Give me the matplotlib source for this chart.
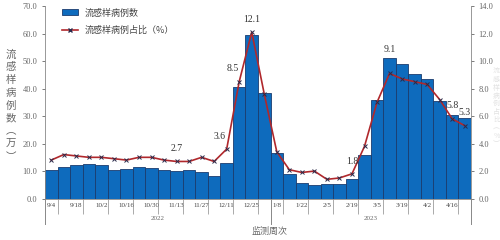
import numpy as np
import matplotlib
matplotlib.use("Agg")
import matplotlib.pyplot as plt
import matplotlib.transforms as mtransforms
from matplotlib.lines import Line2D
from matplotlib.patches import Patch

plt.rcParams['font.family'] = ['Liberation Serif', 'Noto Sans CJK SC', 'DejaVu Sans']

# 监测周次（2022/9/4 起，每周一个柱）
weeks = ['9/4', '9/11', '9/18', '9/25', '10/2', '10/9', '10/16', '10/23', '10/30',
         '11/6', '11/13', '11/20', '11/27', '12/4', '12/11', '12/18', '12/25',
         '1/1', '1/8', '1/15', '1/22', '1/29', '2/5', '2/12', '2/19', '2/26',
         '3/5', '3/12', '3/19', '3/26', '4/2', '4/9', '4/16', '4/23']

# 流感样病例数（万）
cases = [10.4, 11.6, 12.1, 12.5, 12.3, 10.4, 10.6, 11.4, 11.1, 10.4, 10.2, 10.4,
         9.8, 8.3, 12.8, 40.7, 59.5, 38.5, 16.5, 8.9, 5.8, 4.8, 5.2, 5.2,
         7.0, 15.8, 35.9, 51.0, 48.9, 45.3, 43.4, 35.6, 30.4, 29.2]

# 流感样病例占比（%）
ratio = [2.8, 3.2, 3.1, 3.0, 3.0, 2.9, 2.8, 3.0, 3.0, 2.8, 2.7, 2.7,
         3.0, 2.7, 3.6, 8.5, 12.1, 7.6, 3.4, 2.1, 1.9, 2.0, 1.4, 1.5,
         1.8, 3.8, 7.0, 9.1, 8.7, 8.5, 8.3, 7.2, 5.8, 5.3]

# 标注数值的周
label_idx = [10, 14, 15, 16, 24, 27, 32, 33]

years = ['2022', '2023']

bar_color = '#0e6bbd'
edge_color = '#1b3c6e'
line_color = '#b0282c'
gray = '#666666'

fig = plt.figure(figsize=(5, 2.4), dpi=100)
ax = fig.add_axes([0.09, 0.1725, 0.852, 0.8025])
ax2 = ax.twinx()

x = np.arange(len(weeks))
ax.bar(x, cases, width=1.0, color=bar_color, edgecolor=edge_color, linewidth=0.6, zorder=2)
ax2.plot(x, ratio, color=line_color, linewidth=1.2, marker='x', markersize=2.5,
         markeredgecolor='#2a2a4a', markeredgewidth=0.7, zorder=3)

ax.set_xlim(-0.5, len(weeks) - 0.5)
ax.set_ylim(0, 70)
ax2.set_ylim(0, 14)
ax.set_yticks(np.arange(0, 71, 10))
ax.set_yticklabels([f'{v:.1f}' for v in np.arange(0, 71, 10)])
ax2.set_yticks(np.arange(0, 15, 2))
ax2.set_yticklabels([f'{v:.1f}' for v in np.arange(0, 15, 2)])

for a in (ax, ax2):
    a.tick_params(axis='y', labelsize=6, colors=gray, length=2.5, width=0.6, pad=3)
    for s in a.spines.values():
        s.set_color('#888888')
        s.set_linewidth(0.6)
    a.spines['top'].set_visible(False)
ax.spines['right'].set_visible(False)
ax2.spines['left'].set_visible(False)
ax2.spines['bottom'].set_visible(False)

# x 轴标签：每两周一个
ax.set_xticks(x[::2])
ax.set_xticklabels(weeks[::2], fontsize=5, color='#444444')
ax.tick_params(axis='x', length=0, pad=3)
ax.set_xticks(x[::2] + 0.5, minor=True)
ax.tick_params(axis='x', which='minor', length=11, width=0.5, color='#888888')

# 纵轴线与年份分隔线向下延伸
trans = mtransforms.blended_transform_factory(ax.transData, ax.transAxes)
for xv in (-0.5, 17.5, len(weeks) - 0.5):
    ax.add_line(Line2D([xv, xv], [0, -0.13], transform=trans, color='#888888',
                       linewidth=0.7, clip_on=False))
ax.text(8.5, -0.105, years[0], transform=trans, ha='center', va='center', fontsize=5, color=gray)
ax.text(25.5, -0.105, years[1], transform=trans, ha='center', va='center', fontsize=5, color=gray)
fig.text(0.54, 0.035, '监测周次', ha='center', va='center', fontsize=6.5, color=gray,
         family=['Noto Sans CJK SC'])

# 数值标注
for i in label_idx:
    dx = -5 if i in (14, 15) else 0
    dy = 14 if i == 27 else 6
    ax2.annotate(f'{ratio[i]}', (i, ratio[i]), xytext=(dx, dy), textcoords='offset points',
                 ha='center', va='bottom', fontsize=7, color='#333333')

# 纵轴标题（竖排）
fig.text(0.022, 0.56, '流\n感\n样\n病\n例\n数\n︵\n万\n︶', ha='center', va='center',
         fontsize=7.5, color=gray, linespacing=1.35, family=['Noto Sans CJK SC'])
fig.text(0.993, 0.55, '流\n感\n样\n病\n例\n占\n比\n︵\n%\n︶', ha='center', va='center',
         fontsize=5, color='#e2e2e2', linespacing=1.0, family=['Noto Sans CJK SC', 'DejaVu Sans'])

handles = [Patch(facecolor=bar_color, edgecolor=edge_color, linewidth=0.6),
           Line2D([], [], color=line_color, linewidth=1.2, marker='x', markersize=2.5,
                  markeredgecolor='#2a2a4a')]
leg = ax.legend(handles, ['流感样病例数', '流感样病例占比（%）'], loc='upper left',
                bbox_to_anchor=(0.02, 1.03), frameon=False,
                handlelength=1.8, handleheight=0.6, labelspacing=0.9,
                prop={'family': ['Noto Sans CJK SC'], 'size': 6.5})
for t in leg.get_texts():
    t.set_color('#444444')

fig.savefig('out.png', dpi=100)
